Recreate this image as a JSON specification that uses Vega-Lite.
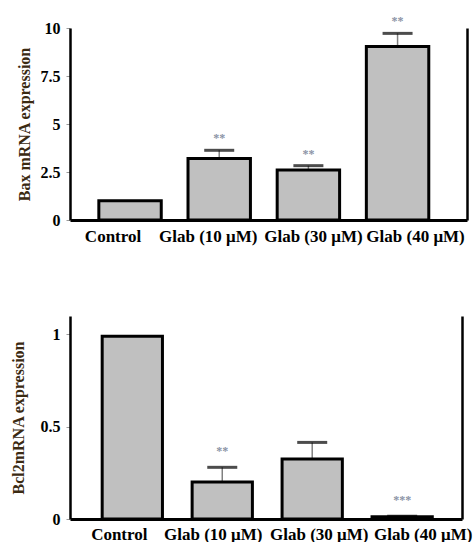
{
  "$schema": "https://vega.github.io/schema/vega-lite/v6.json",
  "padding": {"left": 10, "top": 15, "right": 3, "bottom": 0},
  "background": "white",
  "config": {"view": {"stroke": null}, "font": "Liberation Serif"},
  "spacing": 72,
  "vconcat": [
    {
      "width": 397,
      "height": 192,
      "data": {"values": [
        {"group": "Control", "value": 1.0, "err": null, "star": ""},
        {"group": "Glab (10 μM)", "value": 3.2, "err": 3.63, "star": "**"},
        {"group": "Glab (30 μM)", "value": 2.6, "err": 2.83, "star": "**"},
        {"group": "Glab (40 μM)", "value": 9.03, "err": 9.72, "star": "**"}
      ]},
      "encoding": {
        "x": {
          "field": "group", "type": "nominal",
          "sort": ["Control", "Glab (10 μM)", "Glab (30 μM)", "Glab (40 μM)"],
          "scale": {"paddingInner": 0.3, "paddingOuter": 0.376, "align": 0.43},
          "axis": {
            "title": null, "labelAngle": 0, "ticks": false,
            "domainColor": "black", "domainWidth": 3,
            "labelFont": "Liberation Serif", "labelFontWeight": "bold", "labelFontSize": 17,
            "labelColor": "black", "labelPadding": 8,
            "labelOffset": {"condition": [
              {"test": "datum.value == 'Control'", "value": -17},
              {"test": "datum.value == 'Glab (10 μM)'", "value": -11},
              {"test": "datum.value == 'Glab (30 μM)'", "value": 5}
            ], "value": 18}
          }
        }
      },
      "layer": [
        {
          "transform": [{"filter": "datum.err != null"}],
          "mark": {"type": "rule", "color": "#808080", "strokeWidth": 1.5},
          "encoding": {
            "y": {"field": "value", "type": "quantitative", "scale": {"domain": [0, 10]}, "axis": null},
            "y2": {"field": "err"}
          }
        },
        {
          "mark": {"type": "bar", "fill": "#c0c0c0", "stroke": "black", "strokeWidth": 3},
          "encoding": {
            "y": {
              "field": "value", "type": "quantitative", "scale": {"domain": [0, 10]},
              "axis": {
                "values": [0, 2.5, 5, 7.5, 10], "labelExpr": "'' + datum.value",
                "grid": false, "domainColor": "black", "domainWidth": 2.5,
                "tickColor": "#999999", "tickSize": 4, "tickWidth": 1,
                "labelFont": "Liberation Serif", "labelFontWeight": "bold", "labelFontSize": 16,
                "labelColor": "black", "labelPadding": 6,
                "title": "Bax mRNA expression", "titleFont": "Liberation Serif",
                "titleFontWeight": "bold", "titleFontSize": 16, "titleColor": "#3b2a12",
                "titlePadding": 8
              }
            }
          }
        },
        {
          "transform": [{"filter": "datum.err != null"}],
          "mark": {"type": "tick", "color": "black", "thickness": 3, "size": 30, "orient": "horizontal"},
          "encoding": {
            "y": {
              "field": "err", "type": "quantitative", "scale": {"domain": [0, 10]},
              "axis": {"orient": "right", "labels": false, "ticks": false, "title": null, "grid": false,
                       "domainColor": "black", "domainWidth": 2.5}
            }
          }
        },
        {
          "transform": [{"filter": "datum.err != null"}],
          "mark": {"type": "text", "fill": "#8a93a5", "fontSize": 12, "fontWeight": "bold", "baseline": "middle", "dy": -12},
          "encoding": {
            "y": {"field": "err", "type": "quantitative", "axis": null},
            "text": {"field": "star"}
          }
        }
      ],
      "resolve": {"axis": {"y": "independent"}}
    },
    {
      "width": 392,
      "height": 203,
      "data": {"values": [
        {"group": "Control", "value": 0.99, "err": null, "star": ""},
        {"group": "Glab (10 μM)", "value": 0.2, "err": 0.28, "star": "**"},
        {"group": "Glab (30 μM)", "value": 0.325, "err": 0.415, "star": ""},
        {"group": "Glab (40 μM)", "value": 0.012, "err": 0.015, "star": "***"}
      ]},
      "encoding": {
        "x": {
          "field": "group", "type": "nominal",
          "sort": ["Control", "Glab (10 μM)", "Glab (30 μM)", "Glab (40 μM)"],
          "scale": {"paddingInner": 0.33, "paddingOuter": 0.344, "align": 0.52},
          "axis": {
            "title": null, "labelAngle": 0, "ticks": false,
            "domainColor": "black", "domainWidth": 3,
            "labelFont": "Liberation Serif", "labelFontWeight": "bold", "labelFontSize": 17,
            "labelColor": "black", "labelPadding": 7,
            "labelOffset": {"condition": [
              {"test": "datum.value == 'Control'", "value": -13},
              {"test": "datum.value == 'Glab (10 μM)'", "value": -9},
              {"test": "datum.value == 'Glab (30 μM)'", "value": 7}
            ], "value": 21}
          }
        }
      },
      "layer": [
        {
          "transform": [{"filter": "datum.err != null"}],
          "mark": {"type": "rule", "color": "#808080", "strokeWidth": 1.5},
          "encoding": {
            "y": {"field": "value", "type": "quantitative", "scale": {"domain": [0, 1.057]}, "axis": null},
            "y2": {"field": "err"}
          }
        },
        {
          "mark": {"type": "bar", "fill": "#c0c0c0", "stroke": "black", "strokeWidth": 3},
          "encoding": {
            "y": {
              "field": "value", "type": "quantitative", "scale": {"domain": [0, 1.057]},
              "axis": {
                "values": [0, 0.5, 1], "labelExpr": "'' + datum.value",
                "grid": false, "domainColor": "black", "domainWidth": 2.5,
                "tickColor": "#999999", "tickSize": 4, "tickWidth": 1,
                "labelFont": "Liberation Serif", "labelFontWeight": "bold", "labelFontSize": 16,
                "labelColor": "black", "labelPadding": 6,
                "title": "Bcl2mRNA expression", "titleFont": "Liberation Serif",
                "titleFontWeight": "bold", "titleFontSize": 16, "titleColor": "#3b2a12",
                "titlePadding": 14
              }
            }
          }
        },
        {
          "transform": [{"filter": "datum.err != null"}],
          "mark": {"type": "tick", "color": "black", "thickness": 3, "size": 30, "orient": "horizontal"},
          "encoding": {
            "y": {
              "field": "err", "type": "quantitative", "scale": {"domain": [0, 1.057]},
              "axis": {"orient": "right", "labels": false, "ticks": false, "title": null, "grid": false,
                       "domainColor": "black", "domainWidth": 2.5}
            }
          }
        },
        {
          "transform": [{"filter": "datum.err != null"}],
          "mark": {"type": "text", "fill": "#8a93a5", "fontSize": 12, "fontWeight": "bold", "baseline": "middle", "dy": -16},
          "encoding": {
            "y": {"field": "err", "type": "quantitative", "axis": null},
            "text": {"field": "star"}
          }
        }
      ],
      "resolve": {"axis": {"y": "independent"}}
    }
  ]
}
